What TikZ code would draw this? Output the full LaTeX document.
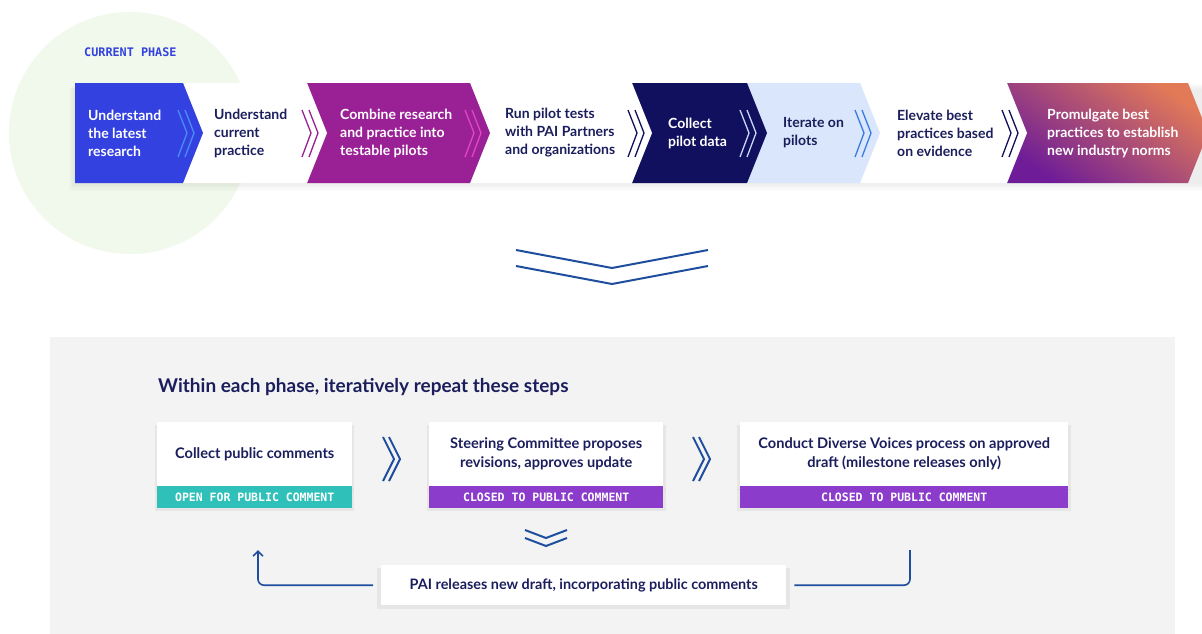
\documentclass[tikz,border=0pt]{standalone}
\usepackage{fontspec}
\setmainfont{Lato}
\newfontfamily\monof{DejaVu Sans Mono}
\usetikzlibrary{arrows.meta,shadows}
\definecolor{pblue}{HTML}{3341E0}
\definecolor{ppurple}{HTML}{9A2195}
\definecolor{pnavy}{HTML}{10105E}
\definecolor{plight}{HTML}{D9E6FB}
\definecolor{ptext}{HTML}{1B1E5C}
\definecolor{pgreen}{HTML}{F1F8EC}
\definecolor{parrow}{HTML}{1F4E9E}
\definecolor{pteal}{HTML}{2FC1B9}
\definecolor{pviolet}{HTML}{8B3CCB}
\definecolor{ppanel}{HTML}{F3F3F3}
\definecolor{gorange}{HTML}{E27A58}
\definecolor{gmagenta}{HTML}{C4288C}
\definecolor{gpurple}{HTML}{6E1C98}
\definecolor{chlblue}{HTML}{4A8CF7}
\definecolor{chpink}{HTML}{E444C4}
\definecolor{chpale}{HTML}{C8D8F8}
\definecolor{chblue}{HTML}{3A7BE0}
\tikzset{
  bandtext/.style={anchor=west,align=left,inner sep=0pt,font=\bfseries\fontsize{14}{18}\selectfont},
  wbox/.style={fill=white,anchor=north west,inner sep=0pt,align=center,text=ptext,
    font=\bfseries\fontsize{14.6}{19}\selectfont,
    general shadow={fill=black,opacity=0.05,shadow xshift=0pt,shadow yshift=-3pt,shadow scale=1.02}},
  barbox/.style={anchor=north west,inner sep=0pt,text=white,minimum height=22pt,
    font=\monof\bfseries\fontsize{11.5}{12}\selectfont,
    general shadow={fill=black,opacity=0.05,shadow xshift=0pt,shadow yshift=-3pt,shadow scale=1.02}},
  chev/.style={line width=1.3pt},
  pchev/.style={draw=parrow,line width=2pt},
  retline/.style={draw=parrow,line width=1.6pt,rounded corners=6pt}
}
\begin{document}
\begin{tikzpicture}[x=1pt,y=-1pt]
\useasboundingbox (0,0) rectangle (1202,634);
\fill[white] (0,0) rectangle (1202,634);
% green circle
\fill[pgreen] (130,133) circle[radius=121];
% band shadow
\foreach \i in {1,...,6}{
  \fill[black,opacity=0.012] (75-\i,83+\i) rectangle (1202,183+\i*1.3);
}
% segments, right to left
\shade[top color=gorange,middle color=gmagenta,bottom color=gpurple,shading angle=-35]
  (1007,83) -- (1188,83) -- (1208,133) -- (1188,183) -- (1007,183) -- cycle;
\fill[white] (860,83) -- (1007,83) -- (1027,133) -- (1007,183) -- (860,183) -- cycle;
\fill[plight] (747,83) -- (860,83) -- (880,133) -- (860,183) -- (747,183) -- cycle;
\fill[pnavy] (632,83) -- (747,83) -- (767,133) -- (747,183) -- (632,183) -- cycle;
\fill[white] (470,83) -- (632,83) -- (652,133) -- (632,183) -- (470,183) -- cycle;
\fill[ppurple] (307,83) -- (470,83) -- (490,133) -- (470,183) -- (307,183) -- cycle;
\fill[white] (183,83) -- (307,83) -- (327,133) -- (307,183) -- (183,183) -- cycle;
\fill[pblue] (75,83) -- (183,83) -- (203,133) -- (183,183) -- (75,183) -- cycle;
% double chevrons in band
\foreach \x/\c in {178/chlblue,302/ppurple,465/chpink,628/pnavy,740/chpale,855/chblue,1002/pnavy}{
  \draw[chev,draw=\c] (\x,110) -- (\x+9,133) -- (\x,157);
  \draw[chev,draw=\c] (\x+7,110) -- (\x+16,133) -- (\x+7,157);
}
% band texts
\node[bandtext,text=white] (s1) at (88,133) {Understand\\the latest\\research};
\node[bandtext,text=ptext] (s2) at (214,133) {Understand\\current\\practice};
\node[bandtext,text=white] (s3) at (340,133) {Combine research\\and practice into\\testable pilots};
\node[bandtext,text=ptext] (s4) at (505,133) {Run pilot tests\\with PAI Partners\\and organizations};
\node[bandtext,text=white] (s5) at (668,133) {Collect\\pilot data};
\node[bandtext,text=ptext] (s6) at (783,133) {Iterate on\\pilots};
\node[bandtext,text=ptext] (s7) at (897,133) {Elevate best\\practices based\\on evidence};
\node[bandtext,text=white] (s8) at (1047,133) {Promulgate best\\practices to establish\\new industry norms};
\node[anchor=base west,inner sep=0pt,text=pblue,font=\monof\bfseries\fontsize{11.8}{12}\selectfont] (cp) at (84,57) {CURRENT PHASE};
% big down chevron
\draw[pchev] (516,250) -- (612,268) -- (708,250);
\draw[pchev] (516,266) -- (612,284) -- (708,266);
% panel
\fill[ppanel] (50,337) rectangle (1175,634);
\node[anchor=base west,inner sep=0pt,text=ptext,font=\bfseries\fontsize{19}{22}\selectfont] (title) at (158,392) {Within each phase, iteratively repeat these steps};
% boxes
\node[wbox,minimum width=195pt,minimum height=64pt] (b1) at (157,422) {Collect public comments};
\node[barbox,fill=pteal,minimum width=195pt] (b1bar) at (157,486) {OPEN FOR PUBLIC COMMENT};
\node[wbox,minimum width=234pt,minimum height=64pt] (b2) at (429,422) {Steering Committee proposes\\revisions, approves update};
\node[barbox,fill=pviolet,minimum width=234pt] (b2bar) at (429,486) {CLOSED TO PUBLIC COMMENT};
\node[wbox,minimum width=328pt,minimum height=64pt] (b3) at (740,422) {Conduct Diverse Voices process on approved\\draft (milestone releases only)};
\node[barbox,fill=pviolet,minimum width=328pt] (b3bar) at (740,486) {CLOSED TO PUBLIC COMMENT};
\node[wbox,minimum width=405pt,minimum height=40pt,font=\bfseries\fontsize{14.4}{17}\selectfont] (bot) at (381,565) {PAI releases new draft, incorporating public comments};
% chevrons between boxes
\foreach \x in {383,693}{
  \draw[pchev] (\x,437) -- (\x+11,459) -- (\x,481);
  \draw[pchev] (\x+6,437) -- (\x+17,459) -- (\x+6,481);
}
% small down chevron
\draw[pchev] (525,530) -- (546,538) -- (567,530);
\draw[pchev] (525,538) -- (546,546) -- (567,538);
% return connectors
\coordinate (lend) at (258,550);
\coordinate (rend) at (910,550);
\draw[retline,-{Straight Barb[length=5pt,width=10pt]}] ([xshift=-8pt]bot.west) -| (lend);
\draw[retline] ([xshift=8pt]bot.east) -| (rend);
\end{tikzpicture}
\end{document}
